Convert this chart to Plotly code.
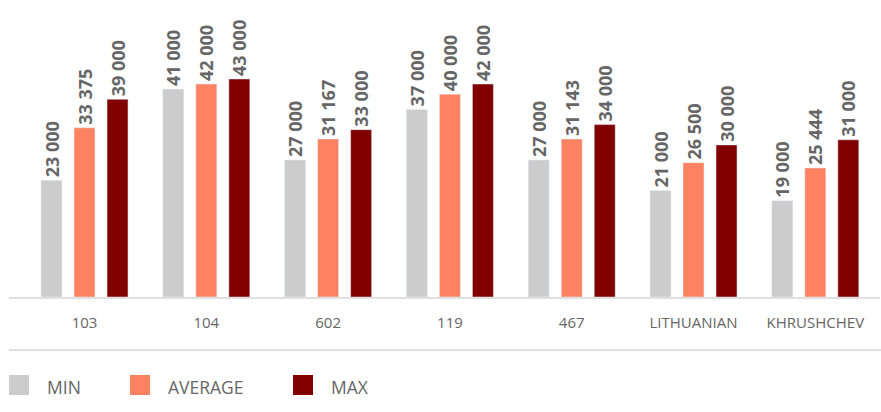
import plotly.graph_objects as go

categories = ["103", "104", "602", "119", "467", "LITHUANIAN", "KHRUSHCHEV"]
series_names = ["MIN", "AVERAGE", "MAX"]
min_vals = [23000, 41000, 27000, 37000, 27000, 21000, 19000]
avg_vals = [33375, 42000, 31167, 40000, 31143, 26500, 25444]
max_vals = [39000, 43000, 33000, 42000, 34000, 30000, 31000]
colors = ["#cccccc", "#fc8262", "#800000"]

W, H = 881, 412
ML, MR, MT, MB = 9, 1, 10, 115
PW = W - ML - MR
PH = H - MT - MB

def px_x(x):
    return (x - ML) / PW

def px_y(y):
    return (H - MB - y) / PH

fig = go.Figure()
for name, vals, col in zip(series_names, [min_vals, avg_vals, max_vals], colors):
    fig.add_trace(go.Bar(
        x=categories, y=vals, name=name, marker_color=col,
        texttemplate="%{y:,.0f}", textposition="outside", textangle=-90,
        textfont=dict(family="Open Sans", size=18, color="#666666", weight="bold"),
        cliponaxis=False, constraintext="none", showlegend=False,
    ))

shapes = [dict(type="line", xref="paper", yref="paper", x0=0, x1=1.002,
               y0=px_y(350), y1=px_y(350), line=dict(color="#d6d6d6", width=1.5))]
annotations = []
leg_x = [9, 130, 293]
for name, col, lx in zip(series_names, colors, leg_x):
    shapes.append(dict(type="rect", xref="paper", yref="paper",
                       x0=px_x(lx), x1=px_x(lx + 20), y0=px_y(395), y1=px_y(375),
                       fillcolor=col, line=dict(width=0)))
    annotations.append(dict(xref="paper", yref="paper", x=px_x(lx + 36), y=px_y(387),
                            text=name, showarrow=False, xanchor="left", yanchor="middle",
                            font=dict(family="Open Sans", size=17.5, color="#666666")))

fig.update_layout(
    width=W, height=H, margin=dict(l=ML, r=MR, t=MT, b=MB),
    barmode="group", bargap=0.187, bargroupgap=0.364,
    plot_bgcolor="white", paper_bgcolor="white",
    separators=". ",
    shapes=shapes, annotations=annotations,
    xaxis=dict(range=[-0.62, -0.62 + PW / 121.8], showline=True, linecolor="#e0e0e0",
               linewidth=2, showgrid=False, ticks="", ticklabelstandoff=11,
               tickfont=dict(family="Open Sans", size=15, color="#666666")),
    yaxis=dict(range=[0, 56600], visible=False, showgrid=False),
)
fig.write_html("out.html")
